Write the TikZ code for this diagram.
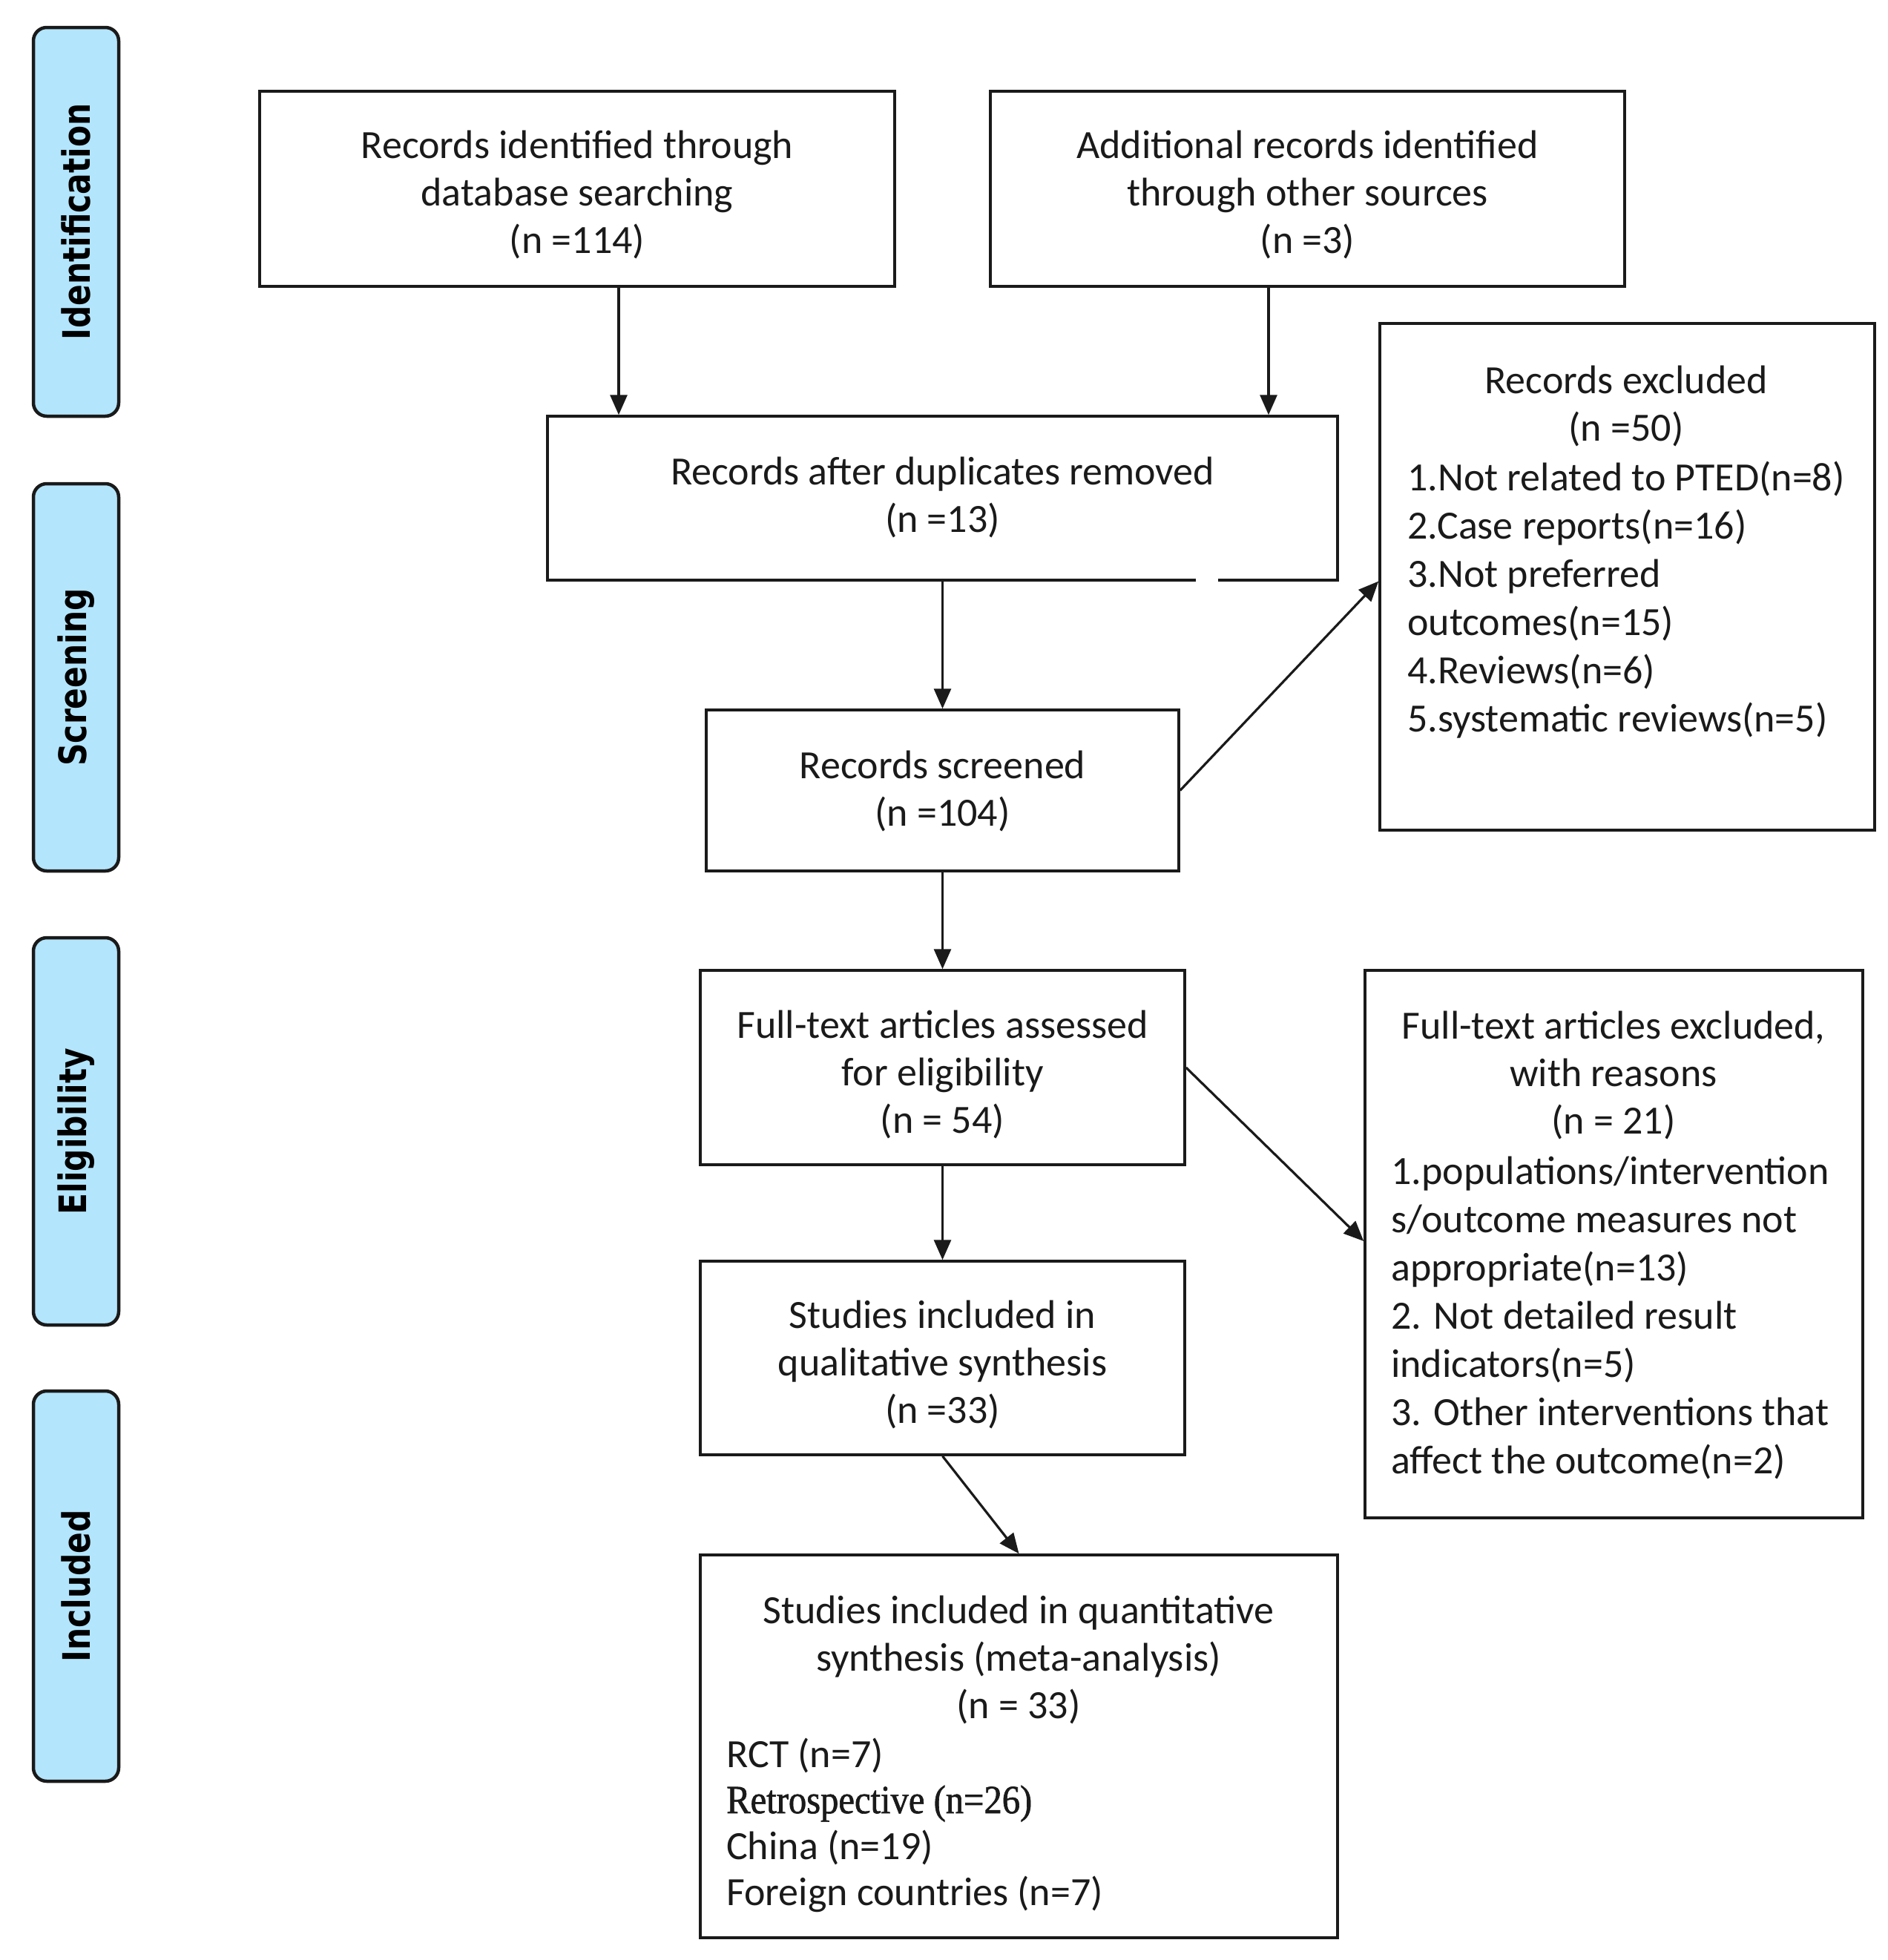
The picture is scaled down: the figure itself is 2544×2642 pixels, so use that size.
\documentclass[tikz,border=0pt]{standalone}
\usepackage{fontspec}
\setmainfont{Carlito}
\newfontfamily\phasefont{DejaVu Sans}[FakeStretch=0.83]
\newfontfamily\retrofont{Liberation Serif}[FakeStretch=0.9,FakeBold=1.2]
\usetikzlibrary{arrows.meta}
\definecolor{phaseblue}{HTML}{B3E5FC}
\definecolor{ink}{HTML}{1A1A1A}
\tikzset{
  box/.style={draw=ink, line width=3.5pt, inner sep=0pt},
  phase/.style={draw=ink, fill=phaseblue, line width=4.5pt, rounded corners=18pt,
    rotate=90, minimum height=115pt, inner sep=0pt,
    font=\phasefont\bfseries\fontsize{51}{60}\selectfont},
  txt/.style={inner sep=0pt, text=ink, font=\fontsize{54}{64}\selectfont},
  arr/.style={draw=ink, line width=3.2pt, -{Triangle[length=27pt,width=23pt]}}
}
\begin{document}
\begin{tikzpicture}[x=1pt,y=-1pt]
\useasboundingbox (0,0) rectangle (2544,2642);
% phase labels
\node[phase, minimum width=524pt] (pid) at (102.5,299) {Identification};
\node[phase, minimum width=522pt] (psc) at (102.5,913) {Screening};
\node[phase, minimum width=522pt] (pel) at (102.5,1525) {Eligibility};
\node[phase, minimum width=526pt] (pin) at (102.5,2138) {Included};
% boxes
\node[box, minimum width=856pt, minimum height=263pt] (b1) at (778,254.5) {};
\node[txt, align=center] (b1t) at ([yshift=-8pt]b1.center)
  {Records identified through\\database searching\\(n =114)};
\node[box, minimum width=855pt, minimum height=263pt] (b2) at (1762.5,254.5) {};
\node[txt, align=center] (b2t) at ([yshift=-8pt]b2.center)
  {Additional records identified\\through other sources\\(n =3)};
\node[box, minimum width=1065pt, minimum height=221pt] (b3) at (1270.5,671.5) {};
\node[txt, align=center] (b3t) at ([yshift=1pt]b3.center)
  {Records after duplicates removed\\(n =13)};
\fill[white] (1612,776) rectangle (1642,788);
\node[box, minimum width=637pt, minimum height=217pt] (b4) at (1270.5,1065.5) {};
\node[txt, align=center] (b4t) at ([yshift=-1pt]b4.center)
  {Records screened\\(n =104)};
\node[box, minimum width=667pt, minimum height=683pt] (b5) at (2193.5,777.5) {};
\node[txt, align=center] (b5h) at (2192,547) {Records excluded\\(n =50)};
\node[txt, align=left, anchor=west, font=\fontsize{54}{65}\selectfont] (b5l) at (1897,809)
  {1.Not related to PTED(n=8)\\2.Case reports(n=16)\\3.Not preferred\\outcomes(n=15)\\4.Reviews(n=6)\\5.systematic reviews(n=5)};
\node[box, minimum width=653pt, minimum height=262pt] (b6) at (1270.5,1439) {};
\node[txt, align=center] (b6t) at ([yshift=-9pt]b6.center)
  {Full-text articles assessed\\for eligibility\\(n = 54)};
\node[box, minimum width=671pt, minimum height=738pt] (b7) at (2175.5,1677) {};
\node[txt, align=center] (b7h) at (2175,1449)
  {Full-text articles excluded,\\with reasons\\(n = 21)};
\node[txt, align=left, anchor=west, font=\fontsize{54}{65}\selectfont] (b7l) at (1875,1776.5)
  {1.populations/intervention\\s/outcome measures not\\appropriate(n=13)\\2. Not detailed result\\indicators(n=5)\\3. Other interventions that\\affect the outcome(n=2)};
\node[box, minimum width=653pt, minimum height=261pt] (b8) at (1270.5,1830.5) {};
\node[txt, align=center] (b8t) at ([yshift=-9pt]b8.center)
  {Studies included in\\qualitative synthesis\\(n =33)};
\node[box, minimum width=859pt, minimum height=516pt] (b9) at (1373.5,2354) {};
\node[txt, align=center] (b9h) at (1373,2237)
  {Studies included in quantitative\\synthesis (meta-analysis)\\(n = 33)};
\node[txt, align=left, anchor=west, font=\fontsize{54}{62}\selectfont] (b9l) at (979,2460)
  {RCT (n=7)\\{\retrofont Retrospective (n=26)}\\China (n=19)\\Foreign countries (n=7)};
% connectors
\draw[arr] ([xshift=56pt]b1.south) -- ([xshift=56pt]b1.south |- b3.north);
\draw[arr] ([xshift=-52.5pt]b2.south) -- ([xshift=-52.5pt]b2.south |- b3.north);
\draw[arr] (b3.south) -- (b4.north);
\draw[arr] (b4.east) -- ([yshift=-6pt]b5.west);
\draw[arr] (b4.south) -- (b6.north);
\draw[arr] (b6.east) -- ([yshift=4pt]b7.west);
\draw[arr] (b6.south) -- (b8.north);
\draw[arr] (b8.south) -- (b9.north);
\end{tikzpicture}
\end{document}
